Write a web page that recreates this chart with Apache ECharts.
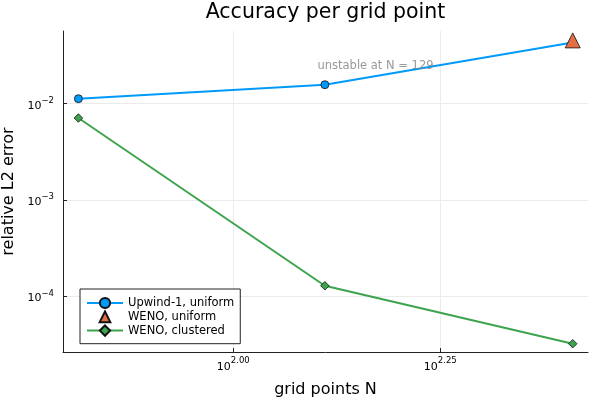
<!DOCTYPE html>
<html><head><meta charset="utf-8">
<script src="https://cdn.jsdelivr.net/npm/echarts@6/dist/echarts.min.js"></script>
<style>html,body{margin:0;padding:0;background:#fff}#c{width:600px;height:400px}</style>
</head><body><div id="c"></div>
<script>
// ---- data ----
const gridPoints = [65, 129, 257];
const upwindErr = [0.01127, 0.01576, 0.0432];
const wenoUniformN = [257];
const wenoUniformErr = [0.0455];
const wenoClusteredErr = [0.00710, 0.000128, 0.0000320];
const seriesNames = ['Upwind-1, uniform', 'WENO, uniform', 'WENO, clustered'];
const xTickExponents = [2.00, 2.25];
const yTickExponents = [-4, -3, -2];
const noteText = 'unstable at N = 129';
const noteN = [148.5];
const noteErr = [0.0248];

const FONT = 'DejaVu Sans';
const zip = (xs, ys) => xs.map((x, i) => [x, ys[i]]);

const richX = {
  s: {fontSize: 8.5, verticalAlign: 'top', padding: [0, 0, 12, 0], fontFamily: FONT, color: '#000'}
};
const richY = {
  s: {fontSize: 8.5, verticalAlign: 'top', padding: [0, 0, 10, 0], fontFamily: FONT, color: '#000'}
};

const chart = echarts.init(document.getElementById('c'), null, {renderer: 'canvas'});
chart.setOption({
  backgroundColor: '#fff',
  animation: false,
  textStyle: {fontFamily: FONT},
  title: {
    text: 'Accuracy per grid point',
    left: 325.5, top: 2.5, padding: 0, textAlign: 'center',
    textStyle: {fontSize: 20.5, fontWeight: 'normal', color: '#000', fontFamily: FONT}
  },
  grid: {left: 63, right: 12, top: 31, bottom: 48, containLabel: false, outerBoundsMode: 'none'},
  xAxis: {
    type: 'log', logBase: 10,
    min: Math.pow(10, 1.79432), max: Math.pow(10, 2.42838),
    name: 'grid points N', nameLocation: 'middle', nameGap: 29.5,
    nameTextStyle: {fontSize: 16, color: '#000', fontFamily: FONT},
    axisLine: {show: true, lineStyle: {color: '#222', width: 1}},
    axisTick: {show: true, inside: true, length: 4, lineStyle: {color: '#222'},
      customValues: xTickExponents.map(e => Math.pow(10, e))},
    axisLabel: {margin: 4.75, fontSize: 11, color: '#000', fontFamily: FONT,
      customValues: xTickExponents.map(e => Math.pow(10, e)),
      formatter: v => '10{s|' + Math.log10(v).toFixed(2) + '}', rich: richX},
    splitLine: {show: true, lineStyle: {color: '#ebebeb', width: 1}},
    minorTick: {show: false}, minorSplitLine: {show: false}
  },
  yAxis: {
    type: 'log', logBase: 10,
    min: Math.pow(10, -4.58108), max: Math.pow(10, -1.24428),
    name: 'relative L2 error', nameLocation: 'middle', nameGap: 40,
    nameTextStyle: {fontSize: 16, color: '#000', fontFamily: FONT},
    axisLine: {show: true, lineStyle: {color: '#222', width: 1}},
    axisTick: {show: true, inside: true, length: 4, lineStyle: {color: '#222'},
      customValues: yTickExponents.map(e => Math.pow(10, e))},
    axisLabel: {margin: 9, fontSize: 11, color: '#000', fontFamily: FONT, padding: [4.6, 0, 0, 0],
      customValues: yTickExponents.map(e => Math.pow(10, e)),
      formatter: v => { const e = Math.round(Math.log10(v)); return '10{s|' + (e < 0 ? '\u2212' : '') + Math.abs(e) + '}'; },
      rich: richY},
    splitLine: {show: true, lineStyle: {color: '#ebebeb', width: 1}}
  },
  legend: {
    data: [
      {name: seriesNames[0]},
      {name: seriesNames[1], icon: 'path://M0,0M12,12M6,1L11,11L1,11Z'},
      {name: seriesNames[2]}
    ],
    orient: 'vertical', left: 80, top: 289,
    padding: [7.6, 6, 6.7, 6], itemGap: 0, itemWidth: 36, itemHeight: 12.8,
    borderColor: '#222', borderWidth: 1, backgroundColor: '#fff', borderRadius: 0,
    textStyle: {fontSize: 11.5, lineHeight: 12.8, color: '#000', fontFamily: FONT}
  },
  series: [
    {
      name: seriesNames[0], type: 'line', data: zip(gridPoints, upwindErr),
      symbol: 'circle', symbolSize: 8, showSymbol: true,
      lineStyle: {color: '#009AFA', width: 2},
      itemStyle: {color: '#009AFA', borderColor: '#111', borderWidth: 0.8},
      z: 2
    },
    {
      name: seriesNames[1], type: 'scatter', data: zip(wenoUniformN, wenoUniformErr),
      symbol: 'triangle', symbolSize: 15,
      itemStyle: {color: '#E26F46', borderColor: '#111', borderWidth: 0.8, opacity: 1},
      z: 4
    },
    {
      name: seriesNames[2], type: 'line', data: zip(gridPoints, wenoClusteredErr),
      symbol: 'diamond', symbolSize: 8.5, showSymbol: true,
      lineStyle: {color: '#3DA44D', width: 2},
      itemStyle: {color: '#3DA44D', borderColor: '#111', borderWidth: 0.8},
      z: 3
    },
    {
      name: 'note', type: 'scatter', data: zip(noteN, noteErr),
      symbol: 'circle', symbolSize: 1, silent: true,
      itemStyle: {color: 'rgba(0,0,0,0)'},
      label: {show: true, position: 'inside', formatter: noteText,
        fontSize: 11.5, color: '#808080', fontFamily: FONT},
      z: 5
    }
  ]
});
</script>
</body></html>
